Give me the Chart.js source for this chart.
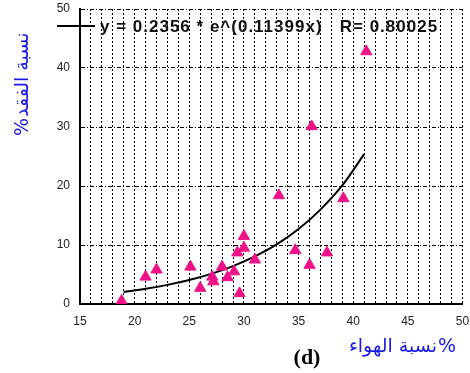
<!DOCTYPE html>
<html>
<head>
<meta charset="utf-8">
<script src="https://cdn.jsdelivr.net/npm/chart.js@4.4.1/dist/chart.umd.min.js"></script>
<style>
  html, body { margin: 0; padding: 0; background: #fff; }
  #wrap { width: 470px; height: 373px; }
</style>
</head>
<body>
<div id="wrap"><canvas id="c" width="470" height="373"></canvas></div>
<script>
// measured points (air voids % vs loss %)
var airVoids = [18.8, 21.0, 22.0, 25.1, 26.0, 27.1, 27.2, 28.0, 28.5, 29.1, 29.4, 29.6, 30.0, 30.0, 31.0, 33.2, 34.7, 36.0, 36.2, 37.6, 39.1, 41.2];
var loss     = [0.5, 4.6, 5.8, 6.3, 2.7, 4.6, 3.8, 6.3, 4.5, 5.5, 8.7, 1.8, 11.5, 9.5, 7.5, 18.4, 9.1, 6.6, 30.1, 8.7, 17.9, 42.8];

// fitted curve as drawn
var fitX = [19, 21, 23, 25, 27, 29, 31, 33, 35, 37, 39, 41];
var fitY = [2.05, 2.58, 3.24, 4.07, 5.11, 6.43, 8.07, 10.1, 12.7, 16.0, 20.1, 25.4];

var eqText = 'y = 0.2356 * e^(0.11399x)   R= 0.80025';
var xTitle = 'نسبة الهواء';
var yTitle = 'نسبة الفقد';

var pts = airVoids.map(function (v, i) { return { x: v, y: loss[i] }; });
var fit = fitX.map(function (v, i) { return { x: v, y: fitY[i] }; });

var extras = {
  id: 'extras',
  afterDraw: function (chart) {
    var ctx = chart.ctx;
    ctx.save();
    // legend line + equation
    ctx.strokeStyle = '#000';
    ctx.lineWidth = 2;
    ctx.beginPath();
    ctx.moveTo(57, 26);
    ctx.lineTo(95, 26);
    ctx.stroke();
    ctx.fillStyle = '#111';
    ctx.font = 'bold 17px Arial, "Liberation Sans", sans-serif';
    ctx.letterSpacing = '1px';
    ctx.textBaseline = 'middle';
    ctx.textAlign = 'left';
    ctx.fillText(eqText, 100, 27);
    ctx.letterSpacing = '0px';

    // axis titles: % sits to the right on x, at the bottom on y
    ctx.fillStyle = '#1a1ae6';
    ctx.font = '19px "DejaVu Sans", sans-serif';
    var pw = ctx.measureText('%').width;
    ctx.textAlign = 'right';
    ctx.fillText('%', 456, 347);
    ctx.fillText(xTitle, 456 - pw - 1, 347);
    ctx.save();
    ctx.translate(23, 136);
    ctx.rotate(-Math.PI / 2);
    ctx.textAlign = 'left';
    ctx.fillText('%', 0, 0);
    ctx.fillText(yTitle, pw + 1, 0);
    ctx.restore();

    ctx.fillStyle = '#000';
    ctx.font = 'bold 22px "Liberation Serif", "Times New Roman", serif';
    ctx.textAlign = 'center';
    ctx.fillText('(d)', 307, 358);
    ctx.restore();
  }
};

new Chart('c', {
  type: 'scatter',
  data: {
    datasets: [{
      data: pts,
      pointStyle: 'triangle',
      pointRadius: 6.5,
      backgroundColor: '#ee1289',
      borderColor: '#ee1289',
      borderWidth: 1
    }, {
      type: 'line',
      data: fit,
      borderColor: '#000',
      borderWidth: 2,
      pointRadius: 0,
      fill: false,
      tension: 0.4,
      cubicInterpolationMode: 'monotone'
    }]
  },
  options: {
    responsive: false,
    animation: false,
    layout: { padding: { left: 0, right: 6, top: 9, bottom: 0 } },
    plugins: { legend: { display: false }, tooltip: { enabled: false } },
    scales: {
      x: {
        type: 'linear',
        min: 15, max: 50,
        afterFit: function (s) { s.height = 69; s.paddingLeft = 0; s.paddingRight = 0; },
        border: { display: true, color: '#000', width: 2, dash: [2, 2] },
        grid: { color: '#000', lineWidth: 1, drawTicks: false },
        ticks: {
          stepSize: 1, autoSkip: false, maxRotation: 0, padding: 10,
          color: '#222', font: { family: 'Arial, "Liberation Sans"', size: 12 },
          callback: function (v) { return v % 5 === 0 ? v : ''; }
        }
      },
      y: {
        min: 0, max: 50,
        afterFit: function (s) { s.width = 80; s.paddingTop = 0; s.paddingBottom = 0; },
        border: { display: true, color: '#000', width: 2, dash: [4, 2, 1, 2] },
        grid: { color: '#000', lineWidth: 1, drawTicks: false },
        ticks: {
          stepSize: 10, padding: 10,
          color: '#222', font: { family: 'Arial, "Liberation Sans"', size: 12 }
        }
      }
    }
  },
  plugins: [extras]
});
</script>
</body>
</html>
